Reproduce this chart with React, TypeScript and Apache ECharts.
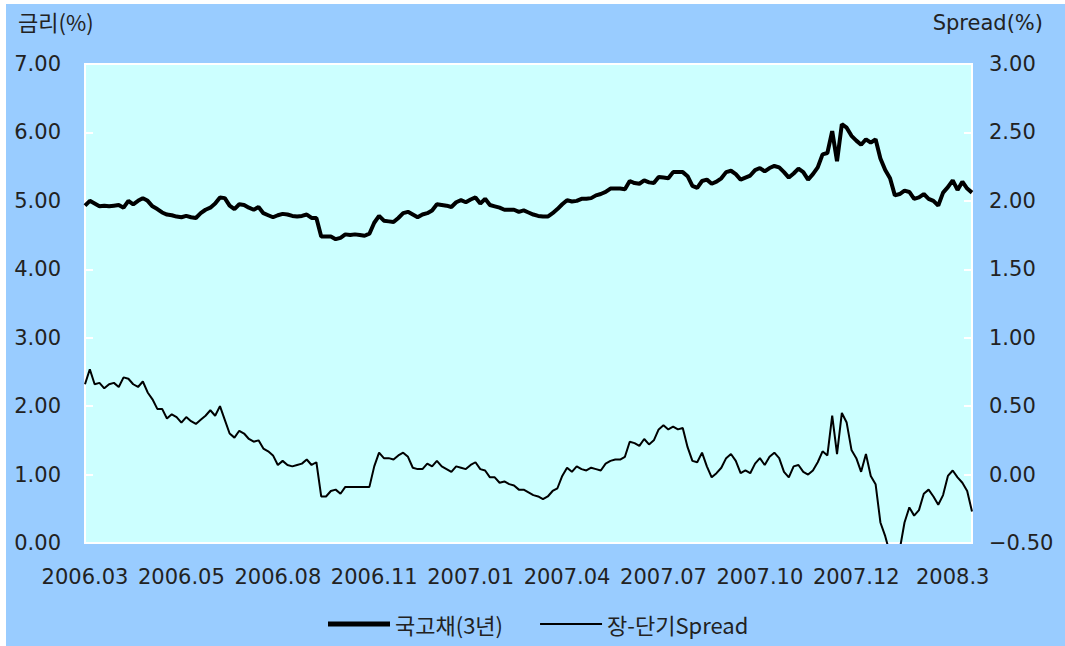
import React, { useEffect, useRef } from "react";
import * as echarts from "echarts";

const tickLabels = ["2006.03", "2006.05", "2006.08", "2006.11", "2007.01", "2007.04", "2007.07", "2007.10", "2007.12", "2008.3"];

const rate = [
  4.93, 5.0, 4.96, 4.92, 4.93, 4.92, 4.93, 4.94, 4.9, 5.0,
  4.95, 5.0, 5.04, 5.0, 4.92, 4.88, 4.83, 4.8, 4.79, 4.77,
  4.76, 4.78, 4.76, 4.75, 4.82, 4.87, 4.9, 4.96, 5.05, 5.04,
  4.93, 4.88, 4.95, 4.94, 4.9, 4.87, 4.91, 4.82, 4.79, 4.76,
  4.79, 4.81, 4.8, 4.78, 4.77, 4.78, 4.8, 4.75, 4.75, 4.48,
  4.48, 4.48, 4.44, 4.46, 4.51, 4.5, 4.51, 4.5, 4.49, 4.52,
  4.68, 4.78, 4.71, 4.7, 4.69, 4.75, 4.82, 4.84, 4.8, 4.76,
  4.8, 4.82, 4.86, 4.95, 4.94, 4.93, 4.91, 4.98, 5.01, 4.98,
  5.02, 5.05, 4.96, 5.03, 4.94, 4.92, 4.9, 4.87, 4.87, 4.87,
  4.84, 4.86, 4.83, 4.8, 4.78, 4.77, 4.77, 4.82, 4.88, 4.95,
  5.01, 4.99, 5.0, 5.03, 5.03, 5.04, 5.08, 5.1, 5.13, 5.18,
  5.18, 5.18, 5.17, 5.29, 5.26, 5.25, 5.3, 5.27, 5.26, 5.35,
  5.34, 5.33, 5.42, 5.42, 5.42, 5.36, 5.22, 5.19, 5.29, 5.31,
  5.25, 5.28, 5.33, 5.42, 5.44, 5.39, 5.31, 5.34, 5.37, 5.45,
  5.48, 5.43, 5.48, 5.51, 5.49, 5.42, 5.34, 5.4, 5.47, 5.42,
  5.31, 5.39, 5.49, 5.68, 5.7, 6.02, 5.58, 6.12, 6.07, 5.95,
  5.88, 5.82, 5.9, 5.85, 5.9, 5.62, 5.45, 5.33, 5.08, 5.1,
  5.15, 5.13, 5.03, 5.05, 5.1, 5.03, 5.0, 4.93, 5.12, 5.2,
  5.3, 5.16, 5.28, 5.18, 5.12,
];

const spread = [
  0.66, 0.77, 0.66, 0.67, 0.63, 0.66, 0.67, 0.64, 0.71, 0.7,
  0.66, 0.64, 0.68, 0.6, 0.55, 0.48, 0.48, 0.41, 0.44, 0.42,
  0.38, 0.42, 0.39, 0.37, 0.4, 0.43, 0.47, 0.43, 0.5, 0.4,
  0.3, 0.27, 0.32, 0.3, 0.26, 0.24, 0.25, 0.19, 0.17, 0.14,
  0.07, 0.1, 0.07, 0.06, 0.07, 0.08, 0.11, 0.07, 0.09, -0.16,
  -0.16, -0.12, -0.11, -0.14, -0.09, -0.09, -0.09, -0.09, -0.09, -0.09,
  0.06, 0.16, 0.12, 0.12, 0.11, 0.14, 0.16, 0.13, 0.05, 0.04,
  0.04, 0.08, 0.06, 0.1, 0.06, 0.04, 0.02, 0.06, 0.05, 0.04,
  0.07, 0.09, 0.04, 0.03, -0.02, -0.02, -0.06, -0.05, -0.07, -0.08,
  -0.11, -0.11, -0.13, -0.15, -0.16, -0.18, -0.16, -0.12, -0.1, -0.01,
  0.05, 0.02, 0.06, 0.04, 0.03, 0.05, 0.04, 0.03, 0.08, 0.1,
  0.11, 0.11, 0.13, 0.24, 0.23, 0.21, 0.26, 0.22, 0.25, 0.33,
  0.36, 0.33, 0.35, 0.33, 0.34, 0.2, 0.1, 0.09, 0.16, 0.06,
  -0.02, 0.01, 0.05, 0.12, 0.15, 0.1, 0.01, 0.03, 0.01, 0.08,
  0.12, 0.07, 0.13, 0.16, 0.12, 0.02, -0.02, 0.06, 0.07, 0.02,
  0.0, 0.03, 0.09, 0.17, 0.14, 0.43, 0.15, 0.45, 0.38, 0.18,
  0.12, 0.02, 0.15, -0.01, -0.07, -0.35, -0.45, -0.58, -0.62, -0.55,
  -0.35, -0.24, -0.3, -0.26, -0.14, -0.11, -0.16, -0.22, -0.15, -0.01,
  0.03, -0.02, -0.06, -0.12, -0.27,
];

const categories = rate.map((_, i) => String(i));
const LABEL_STEP = 20;

const FONT = "'DejaVu Sans', 'Noto Sans CJK KR', sans-serif";
const KFONT = "'Noto Sans CJK KR', 'DejaVu Sans', sans-serif";
const TEXT = "#222222";

export default function App() {
  const ref = useRef<HTMLDivElement>(null);

  useEffect(() => {
    if (!ref.current) return;
    const chart = echarts.init(ref.current, null, { renderer: "svg" });
    chart.setOption({
      animation: false,
      backgroundColor: "#99CCFF",
      textStyle: { fontFamily: FONT },
      grid: {
        left: 79,
        right: 93,
        top: 60,
        bottom: 103,
        show: true,
        backgroundColor: "#CCFFFF",
        borderColor: "#FFFFFF",
        borderWidth: 2,
      },
      graphic: [
        {
          type: "text",
          left: 12,
          top: 6,
          style: { text: "금리(%)", fontSize: 22, fontFamily: KFONT, fill: TEXT },
        },
        {
          type: "text",
          right: 22,
          top: 8,
          style: { text: "Spread(%)", fontSize: 21, fontFamily: FONT, fill: TEXT },
        },
      ],
      legend: {
        left: 317,
        top: 604,
        itemWidth: 62,
        itemHeight: 14,
        itemGap: 37,
        textStyle: { fontSize: 22, color: TEXT, fontFamily: KFONT },
        data: [
          { name: "국고채(3년)", icon: "path://M0,0H62V5H0Z", itemStyle: { color: "#000000" } },
          { name: "장-단기Spread", icon: "path://M0,0H62V2H0Z", itemStyle: { color: "#000000" } },
        ],
      },
      xAxis: {
        type: "category",
        data: categories,
        boundaryGap: false,
        axisLine: { show: true, lineStyle: { color: "#FFFFFF", width: 2 } },
        axisTick: { show: false },
        splitLine: { show: false },
        axisLabel: {
          interval: LABEL_STEP - 1,
          margin: 23,
          fontSize: 21,
          color: TEXT,
          fontFamily: FONT,
          formatter: (_v: string, idx: number) =>
            idx % LABEL_STEP === 0 ? tickLabels[idx / LABEL_STEP] ?? "" : "",
        },
      },
      yAxis: [
        {
          type: "value",
          position: "left",
          min: 0,
          max: 7,
          interval: 1,
          axisLine: { show: true, lineStyle: { color: "#FFFFFF", width: 2 } },
          axisTick: { show: true, inside: true, length: 8, lineStyle: { color: "#FFFFFF", width: 2 } },
          splitLine: { show: false },
          axisLabel: {
            margin: 24,
            fontSize: 21,
            color: TEXT,
            fontFamily: FONT,
            formatter: (v: number) => v.toFixed(2),
          },
        },
        {
          type: "value",
          position: "right",
          min: -0.5,
          max: 3,
          interval: 0.5,
          axisLine: { show: true, lineStyle: { color: "#FFFFFF", width: 2 } },
          axisTick: { show: true, inside: true, length: 8, lineStyle: { color: "#FFFFFF", width: 2 } },
          splitLine: { show: false },
          axisLabel: {
            margin: 17,
            fontSize: 21,
            color: TEXT,
            fontFamily: FONT,
            formatter: (v: number) => (v < 0 ? "\u2212" + Math.abs(v).toFixed(2) : v.toFixed(2)),
          },
        },
      ],
      series: [
        {
          name: "국고채(3년)",
          type: "line",
          yAxisIndex: 0,
          data: rate,
          symbol: "none",
          lineStyle: { color: "#000000", width: 4 },
          itemStyle: { color: "#000000" },
          z: 3,
        },
        {
          name: "장-단기Spread",
          type: "line",
          yAxisIndex: 1,
          data: spread,
          symbol: "none",
          lineStyle: { color: "#000000", width: 2 },
          itemStyle: { color: "#000000" },
          z: 2,
        },
      ],
    });
    return () => chart.dispose();
  }, []);

  return (
    <div style={{ position: "fixed", left: 0, top: 0, width: 1065, height: 646, background: "#FFFFFF" }}>
      <div ref={ref} style={{ position: "absolute", left: 6, top: 4, width: 1059, height: 642 }} />
    </div>
  );
}
